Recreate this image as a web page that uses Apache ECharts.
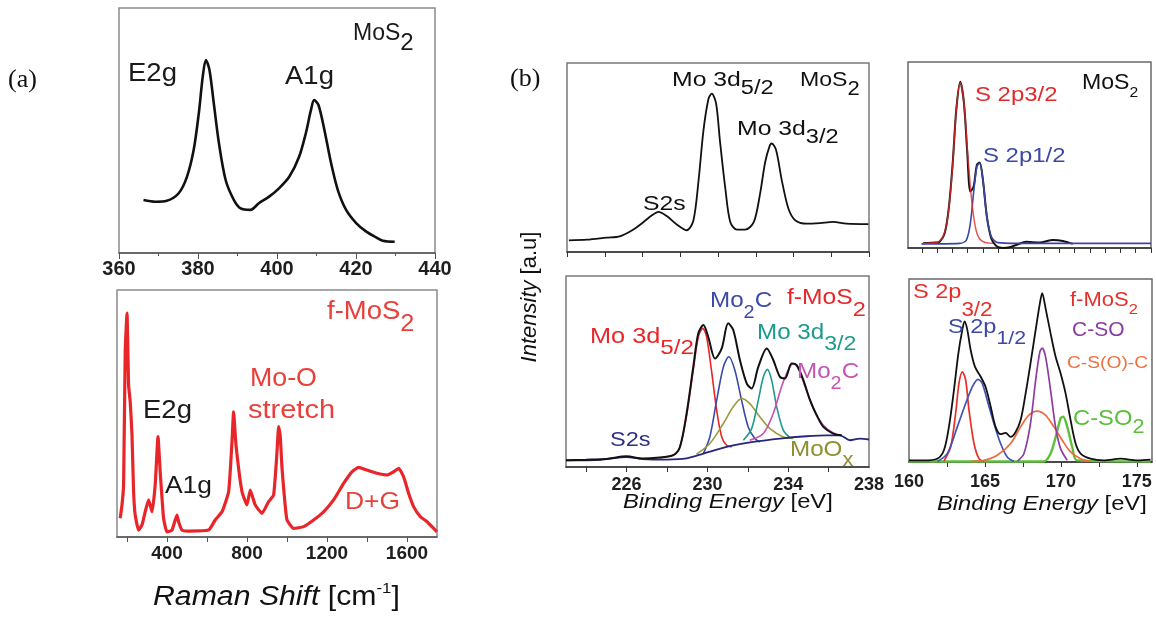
<!DOCTYPE html>
<html>
<head>
<meta charset="utf-8">
<title>MoS2 / f-MoS2 Raman and XPS</title>
<script src="https://cdn.jsdelivr.net/npm/echarts@6/dist/echarts.min.js"></script>
<style>
  html, body { margin: 0; padding: 0; background: #fff; }
  #chart { width: 1156px; height: 618px; }
</style>
</head>
<body>
<div id="chart"></div>
<script>
// ---------- (a) Raman spectra ----------
const ramanMoS2 = [
  [366.2,21.6],[369.2,20.9],[372.1,21.3],[375.1,24.4],[377.2,31.1],[378.9,42.0],[380.2,57.0],
  [381.2,72.0],[382.0,78.8],[382.9,74.7],[384.0,61.1],[385.3,44.8],[387.0,29.8],[389.1,21.6],
  [390.8,18.2],[393.3,17.6],[395.4,20.3],[398.0,23.0],[400.5,26.4],[403.1,31.1],[405.6,39.3],
  [407.3,48.9],[408.6,58.4],[409.4,62.4],[410.5,60.4],[412.0,50.2],[413.7,36.6],[415.4,25.7],
  [417.5,17.6],[420.1,12.1],[422.6,8.7],[425.1,6.4],[426.8,5.0],[429.8,4.6]
];
const ramanFMoS2 = [
  [166,7.6],[175,13.0],[183,21.1],[191,75.0],[200,90.6],[208,61.5],[216,54.8],[225,41.3],
  [233,18.3],[241,8.9],[258,2.8],[275,4.9],[291,10.2],[308,15.0],[325,10.2],[341,21.1],
  [355,40.6],[366,26.4],[383,7.6],[400,2.1],[425,2.8],[450,8.9],[458,6.2],[475,2.8],
  [508,2.4],[608,2.8],[641,6.9],[675,10.2],[708,18.3],[725,38.6],[733,50.7],[745,37.2],
  [775,18.3],[800,13.0],[816,19.0],[841,13.0],[875,9.6],[908,14.3],[933,17.0],[950,34.5],
  [958,44.7],[966,41.0],[975,28.0],[985,18.0],[1000,6.9],[1033,3.5],[1083,4.2],[1133,6.9],
  [1183,10.2],[1233,15.0],[1283,21.7],[1325,26.4],[1358,28.2],[1400,27.1],[1450,25.8],
  [1500,25.1],[1533,26.4],[1558,27.8],[1583,24.4],[1608,17.7],[1633,12.3],[1667,8.2],
  [1700,6.2],[1733,3.5],[1750,2.1]
];
const ramanTopTicks = { min: 360, max: 440, step: 20 };
const ramanBottomTicks = [200, 400, 600, 800, 1000, 1200, 1400, 1600];
const ramanBottomLabels = [400, 800, 1200, 1600];

// ---------- (b) XPS, Mo 3d region ----------
const mo3dMoS2 = [
  [222.1,6.2],[223.06,6.5],[224.1,7.6],[224.8,8.3],[225.5,11.8],[226.06,15.9],[226.5,19.4],
  [226.85,21.2],[227.3,18.9],[227.8,14.7],[228.35,11.5],[228.7,16.8],[228.97,37.9],[229.23,64.4],
  [229.5,81.2],[229.67,83.8],[229.9,78.5],[230.1,59.1],[230.4,32.6],[230.65,15.9],[231.0,11.8],
  [231.44,11.8],[231.9,15.9],[232.23,30.9],[232.5,47.6],[232.73,55.9],[232.85,57.4],[233.08,53.8],
  [233.38,37.9],[233.73,23.0],[234.09,16.8],[234.7,15.0],[235.4,15.3],[236.1,15.9],[236.8,15.0],
  [237.97,14.7]
];
const mo3dFMoS2 = [
  [223.0,3.5],[224.0,3.8],[225.0,4.2],[226.0,5.6],[226.8,4.4],[227.65,5.0],[228.31,6.2],
  [228.64,10.5],[228.97,28.0],[229.3,52.4],[229.55,70.0],[229.8,74.3],[230.04,68.2],[230.38,56.8],
  [230.71,62.1],[231.03,75.2],[231.28,71.7],[231.61,56.0],[231.95,43.7],[232.19,41.1],[232.52,52.4],
  [232.94,62.1],[233.26,56.0],[233.59,47.2],[233.84,46.4],[234.17,54.2],[234.42,53.3],[234.75,45.5],
  [235.08,35.0],[235.41,27.1],[235.74,21.0],[236.23,17.5],[236.65,16.6]
];
const mo3dBackground = [
  [223.0,3.5],[224.7,3.8],[226.0,5.2],[226.8,4.2],[228.0,3.9],[228.97,4.5],[229.8,7.0],
  [230.95,10.5],[232.27,13.1],[233.59,14.9],[234.9,16.1],[235.9,16.6],[236.56,16.6],[237.06,14.0],
  [237.55,14.9],[238.0,14.4]
];
const mo3d52 = [
  [227.65,5.0],[228.31,6.2],[228.64,10.5],[228.97,27.1],[229.3,50.7],[229.55,68.2],[229.77,72.6],
  [229.96,68.2],[230.2,50.7],[230.46,29.7],[230.71,15.7],[230.95,11.4],[231.2,10.5]
];
const mo2cLow = [
  [229.8,7.0],[230.12,15.7],[230.46,35.0],[230.79,52.4],[231.06,57.7],[231.36,50.7],[231.69,35.0],
  [232.02,21.0],[232.35,14.9],[232.6,13.1]
];
const mooxBand = [
  [229.46,6.7],[230.12,12.3],[230.79,22.8],[231.28,31.5],[231.69,35.9],[232.1,33.2],[232.6,26.2],
  [233.1,20.1],[233.76,15.7],[234.25,14.9]
];
const mo3d32 = [
  [231.78,14.0],[232.19,20.1],[232.52,35.0],[232.77,47.2],[232.97,51.1],[233.18,45.5],[233.43,31.5],
  [233.76,19.2],[234.09,15.4]
];
const mo2cHigh = [
  [232.1,14.0],[232.77,17.5],[233.26,28.0],[233.67,42.0],[234.0,50.7],[234.25,54.2],[234.5,51.6],
  [234.9,40.2],[235.33,28.8],[235.74,21.9],[236.15,18.4],[236.56,16.6]
];
const mo3dTopTicks = { min: 222, max: 238, step: 2 };
const mo3dBottomTicks = [224, 226, 228, 230, 232, 234, 236];
const mo3dBottomLabels = [226, 230, 234, 238];

// ---------- (b) XPS, S 2p region ----------
const s2pMoS2 = [
  [160.08,2.5],[160.85,2.9],[161.17,3.4],[161.5,7.9],[161.78,22.3],[162.04,47.4],[162.26,74.4],
  [162.52,89.4],[162.76,78.0],[162.98,51.0],[163.18,30.4],[163.39,33.0],[163.61,44.7],[163.79,46.0],
  [164.0,36.7],[164.26,16.9],[164.55,5.2],[164.88,1.1],[165.31,0.0],[165.75,0.4],[166.18,1.6],
  [166.84,3.4],[167.71,2.9],[168.58,4.3],[169.23,3.8],[169.88,2.2]
];
const s2p32MoS2 = [
  [160.08,2.5],[160.96,2.9],[161.39,6.1],[161.71,16.9],[162.0,42.0],[162.26,74.4],[162.52,88.8],
  [162.76,78.0],[163.02,49.2],[163.31,22.3],[163.61,7.9],[164.0,3.4],[164.66,2.5]
];
const s2p12MoS2 = [
  [159.98,2.2],[162.48,2.5],[162.92,4.3],[163.18,13.3],[163.39,29.5],[163.61,43.8],[163.79,45.6],
  [164.0,36.7],[164.26,16.9],[164.55,6.1],[164.98,2.9],[166.18,2.5],[175.0,2.5]
];
const s2pFMoS2 = [
  [160.0,0.9],[160.99,0.9],[161.86,1.8],[162.3,6.4],[162.63,19.2],[162.96,39.3],[163.25,59.4],
  [163.51,72.2],[163.66,76.8],[163.84,72.2],[164.06,61.2],[164.34,52.1],[164.72,46.6],[165.04,41.1],
  [165.38,30.2],[165.7,19.2],[166.03,15.2],[166.36,15.9],[166.69,13.7],[167.02,16.4],[167.35,22.9],
  [167.68,37.5],[168.0,53.9],[168.34,72.2],[168.62,86.8],[168.77,92.3],[168.99,84.1],[169.32,70.4],
  [169.65,57.6],[169.98,48.5],[170.31,37.5],[170.64,22.9],[170.97,10.1],[171.3,4.6],[171.95,1.8],
  [172.83,0.9],[173.93,1.8],[175.03,0.9],[175.9,1.3]
];
const s2p32F = [
  [162.3,0.5],[162.74,8.2],[163.07,26.5],[163.29,43.0],[163.51,49.3],[163.73,44.8],[163.95,28.3],
  [164.28,10.1],[164.61,1.8],[164.93,0.3]
];
const s2p12F = [
  [161.86,0.3],[162.52,4.6],[163.18,19.2],[163.73,32.0],[164.17,41.1],[164.54,45.2],[164.82,43.0],
  [165.15,33.8],[165.59,21.1],[166.03,10.1],[166.47,2.7],[166.91,0.3]
];
const csocBand = [
  [164.06,0.3],[164.93,0.9],[165.81,3.7],[166.69,10.1],[167.35,19.2],[167.89,25.6],[168.44,27.8],
  [168.99,25.6],[169.54,19.2],[170.09,11.9],[170.64,5.5],[171.3,1.8],[171.95,0.3]
];
const csoBand = [
  [167.13,0.3],[167.57,4.6],[168.0,21.1],[168.34,44.8],[168.62,60.3],[168.77,62.2],[168.99,57.6],
  [169.32,39.3],[169.65,19.2],[169.98,7.3],[170.42,0.9]
];
const cso2Band = [
  [160.0,0.3],[168.88,0.3],[169.32,4.6],[169.72,15.6],[169.98,23.8],[170.15,24.7],[170.42,19.2],
  [170.75,8.2],[171.07,0.9],[175.9,0.3]
];
const s2pTopTicks = [160,161,162,163,164,165,166,167,168,169,170,171,172,173,174,175];
const s2pBottomTicks = [162.5, 165, 167.5, 170, 172.5, 175];
const s2pBottomLabels = [160, 165, 170, 175];

// ---------- drawing ----------
const SANS = 'Liberation Sans, Arial, Helvetica, sans-serif';
const SERIF = 'Liberation Serif, Times New Roman, serif';

const chart = echarts.init(document.getElementById('chart'), null, { renderer: 'canvas' });

// rectangles of the six plot frames
const frames = [
  { left: 119, top: 8,   width: 316, height: 245, border: '#8a8a8a' },  // (a) MoS2
  { left: 117, top: 290, width: 320, height: 247, border: '#8a8a8a' },  // (a) f-MoS2
  { left: 567, top: 63,  width: 302, height: 189, border: '#7a7a7a' },  // (b) Mo 3d MoS2
  { left: 566, top: 276, width: 303, height: 191, border: '#7a7a7a' },  // (b) Mo 3d f-MoS2
  { left: 908, top: 62,  width: 243, height: 186, border: '#6a6a6a' },  // (b) S 2p MoS2
  { left: 909, top: 279, width: 243, height: 183, border: '#6a6a6a' }   // (b) S 2p f-MoS2
];

const grids = frames.map(f => ({
  left: f.left, top: f.top, width: f.width, height: f.height,
  show: true, borderColor: f.border, borderWidth: 1.5, backgroundColor: 'transparent'
}));

// plain numbers, no thousands separators
const plain = v => String(v);

const tickLabel = (margin, size) => ({
  fontSize: size, fontWeight: 'bold', color: '#1e1e1e', fontFamily: SANS, margin: margin,
  formatter: plain
});

const baseX = (i, extra) => Object.assign({
  gridIndex: i, type: 'value',
  axisLine: { show: true, onZero: false, lineStyle: { color: '#333', width: 1.5 } },
  axisTick: { show: true, inside: false, length: 5, lineStyle: { color: '#333', width: 1 } },
  splitLine: { show: false }
}, extra);

const xAxes = [
  baseX(0, { min: ramanTopTicks.min, max: ramanTopTicks.max, interval: ramanTopTicks.step,
    axisLine: { onZero: false, lineStyle: { color: '#555', width: 1.5 } },
    axisTick: { length: 6, lineStyle: { color: '#555' } },
    minorTick: { show: true, splitNumber: 2, length: 3, lineStyle: { color: '#555' } },
    minorSplitLine: { show: false },
    axisLabel: tickLabel(6, 20) }),
  baseX(1, { min: 150, max: 1750,
    axisLine: { onZero: false, lineStyle: { color: '#555', width: 1.5 } },
    axisTick: { length: 5, customValues: ramanBottomTicks, lineStyle: { color: '#555' } },
    axisLabel: Object.assign(tickLabel(7, 19), { customValues: ramanBottomLabels }) }),
  baseX(2, { min: mo3dTopTicks.min, max: mo3dTopTicks.max, interval: mo3dTopTicks.step,
    axisLabel: { show: false } }),
  baseX(3, { min: 223, max: 238,
    axisTick: { length: 5, customValues: mo3dBottomTicks },
    axisLabel: Object.assign(tickLabel(9, 18), { customValues: mo3dBottomLabels }) }),
  baseX(4, { min: 159.1, max: 175.0,
    axisTick: { length: 5, customValues: s2pTopTicks },
    axisLabel: { show: false } }),
  baseX(5, { min: 160, max: 176,
    axisTick: { length: 5, customValues: s2pBottomTicks },
    axisLabel: Object.assign(tickLabel(11, 18), { customValues: s2pBottomLabels }) })
];

const yAxes = frames.map((f, i) => ({ gridIndex: i, type: 'value', min: 0, max: 100, show: false }));

function curve(gi, data, color, width, z, smooth, opacity) {
  return {
    type: 'line', xAxisIndex: gi, yAxisIndex: gi, data: data,
    showSymbol: false, symbol: 'none', smooth: smooth === undefined ? 0.3 : smooth,
    lineStyle: { color: color, width: width, opacity: opacity === undefined ? 1 : opacity },
    z: z, silent: true, animation: false
  };
}

const series = [
  curve(0, ramanMoS2, '#111', 2.6, 3, 0.3),
  curve(1, ramanFMoS2, '#e8262a', 3.2, 3, 0.15),

  curve(2, mo3dMoS2, '#111', 1.8, 3, 0.3),

  curve(3, mo3d52, '#e8262a', 1.6, 3),
  curve(3, mo2cLow, '#3a4aa8', 1.6, 3),
  curve(3, mooxBand, '#9c9a3c', 1.6, 3),
  curve(3, mo3d32, '#1e9a8e', 1.6, 3),
  curve(3, mo2cHigh, '#c252b2', 1.6, 3),
  curve(3, mo3dBackground, '#26287a', 1.8, 4),
  curve(3, mo3dFMoS2, '#111', 2.0, 5),

  curve(4, s2pMoS2, '#111', 2.0, 3),
  curve(4, s2p12MoS2, '#3a46a4', 1.6, 4),
  curve(4, s2p32MoS2, '#e02a2a', 1.5, 4, 0.3, 0.8),

  curve(5, cso2Band, '#5cc03c', 2.4, 3),
  curve(5, s2p32F, '#e8302a', 1.7, 4),
  curve(5, s2p12F, '#4252b2', 1.7, 4),
  curve(5, csocBand, '#ee6a3c', 1.7, 4),
  curve(5, csoBand, '#8a3ea2', 1.7, 4),
  curve(5, s2pFMoS2, '#111', 1.8, 5)
];

// Rich text note: parts = [{t, size, y (cap centre), italic, color}]
function note(x, parts, color, sx, family) {
  const top = Math.min.apply(null, parts.map(p => p.y - p.size / 2));
  const rich = {};
  let text = '';
  parts.forEach((p, i) => {
    const k = 'p' + i;
    rich[k] = {
      fontSize: p.size, lineHeight: p.size, fontFamily: family || SANS,
      fontStyle: p.italic ? 'italic' : 'normal', fontWeight: 'normal',
      fill: p.color || color, verticalAlign: 'top',
      padding: [p.y - p.size / 2 - top, 0, 0, 0]
    };
    text += '{' + k + '|' + p.t + '}';
  });
  return {
    type: 'text', x: x, y: top, scaleX: sx || 1, scaleY: 1, z: 100, silent: true,
    style: { text: text, rich: rich, align: 'left', verticalAlign: 'top', fill: color }
  };
}
const one = (x, y, t, size, color, sx, family) => note(x, [{ t: t, size: size, y: y }], color, sx, family);

const graphics = [
  // panel tags
  one(8, 80, '(a)', 26, '#111', 1, SERIF),
  one(510, 79, '(b)', 26, '#111', 1, SERIF),

  // (a) MoS2
  note(353, [{ t: 'MoS', size: 23, y: 33.5 }, { t: '2', size: 24, y: 43 }], '#1a1a1a', 1.0),
  one(128, 74, 'E2g', 25, '#1a1a1a', 1.1),
  one(285, 77.5, 'A1g', 25, '#1a1a1a', 1.1),

  // (a) f-MoS2
  note(327, [{ t: 'f-MoS', size: 25, y: 312.5 }, { t: '2', size: 23, y: 325 }], '#e8403a', 1.1),
  one(250, 379, 'Mo-O', 25, '#e8403a', 1.07),
  one(248, 411, 'stretch', 25, '#e8403a', 1.16),
  one(143, 411, 'E2g', 25, '#1a1a1a', 1.1),
  one(165, 486, 'A1g', 24, '#1a1a1a', 1.1),
  one(345, 502, 'D+G', 24, '#e8403a', 1.1),
  note(153, [
    { t: 'Raman Shift ', size: 27, y: 597.5, italic: true },
    { t: '[cm', size: 27, y: 597.5 },
    { t: '-1', size: 15, y: 589 },
    { t: ']', size: 27, y: 597.5 }
  ], '#111', 1.12),

  // (b) Mo 3d, MoS2
  note(672, [{ t: 'Mo 3d', size: 21, y: 80 }, { t: '5/2', size: 20, y: 88 }], '#111', 1.18),
  note(800, [{ t: 'MoS', size: 21, y: 80 }, { t: '2', size: 20, y: 89.5 }], '#111', 1.1),
  note(737, [{ t: 'Mo 3d', size: 21, y: 129.5 }, { t: '3/2', size: 20, y: 137.5 }], '#111', 1.18),
  one(643, 204.5, 'S2s', 21, '#111', 1.18),

  // (b) Mo 3d, f-MoS2
  note(590, [{ t: 'Mo 3d', size: 22, y: 336.5 }, { t: '5/2', size: 21, y: 348.5 }], '#e8262a', 1.15),
  note(710, [{ t: 'Mo', size: 22, y: 300.5 }, { t: '2', size: 18, y: 313.5 }, { t: 'C', size: 22, y: 300.5 }], '#3b4aa8', 1.1),
  note(787, [{ t: 'f-MoS', size: 22, y: 297.5 }, { t: '2', size: 21, y: 310 }], '#e8262a', 1.12),
  note(757, [{ t: 'Mo 3d', size: 22, y: 332.5 }, { t: '3/2', size: 21, y: 344.5 }], '#1b9a8e', 1.1),
  note(797, [{ t: 'Mo', size: 22, y: 371.5 }, { t: '2', size: 18, y: 384 }, { t: 'C', size: 22, y: 371.5 }], '#c455b4', 1.1),
  one(610, 440.5, 'S2s', 21, '#2e2f8a', 1.12),
  note(790, [{ t: 'MoO', size: 22, y: 450 }, { t: 'x', size: 20, y: 460 }], '#8f8f2e', 1.1),
  note(623, [{ t: 'Binding Energy ', size: 21, y: 502.5, italic: true }, { t: '[eV]', size: 21, y: 502.5 }], '#111', 1.13),

  // (b) S 2p, MoS2
  note(1082, [{ t: 'MoS', size: 22, y: 83 }, { t: '2', size: 15, y: 93 }], '#111', 1.05),
  one(975, 95.5, 'S 2p3/2', 21, '#e02a2a', 1.14),
  one(983, 156.5, 'S 2p1/2', 21, '#3b48a6', 1.14),

  // (b) S 2p, f-MoS2
  note(913, [{ t: 'S 2p', size: 21, y: 292.5 }, { t: '3/2', size: 20, y: 310 }], '#e8302a', 1.12),
  note(948, [{ t: 'S 2p', size: 21, y: 327.5 }, { t: '1/2', size: 19, y: 339 }], '#3b48a6', 1.12),
  note(1070, [{ t: 'f-MoS', size: 20, y: 300 }, { t: '2', size: 15, y: 310 }], '#e8302a', 1.1),
  one(1072, 330.5, 'C-SO', 21, '#8a3c9e', 1.0),
  one(1067, 364, 'C-S(O)-C', 16, '#f0703c', 1.2),
  note(1073, [{ t: 'C-SO', size: 22, y: 418.5 }, { t: '2', size: 20, y: 427.5 }], '#5cbf3c', 1.08),
  note(937, [{ t: 'Binding Energy ', size: 21, y: 504, italic: true }, { t: '[eV]', size: 21, y: 504 }], '#111', 1.13),

  // shared y title
  {
    type: 'text', x: 530, y: 297, rotation: Math.PI / 2, z: 100, silent: true,
    style: {
      text: '{i|Intensity }{n|[a.u]}', align: 'center', verticalAlign: 'middle',
      rich: {
        i: { fontSize: 22, fontStyle: 'italic', fontFamily: SANS, fill: '#111' },
        n: { fontSize: 22, fontFamily: SANS, fill: '#111' }
      }
    }
  }
];

chart.setOption({
  animation: false,
  backgroundColor: '#ffffff',
  textStyle: { fontFamily: SANS },
  grid: grids,
  xAxis: xAxes,
  yAxis: yAxes,
  series: series,
  graphic: graphics
});
</script>
</body>
</html>
